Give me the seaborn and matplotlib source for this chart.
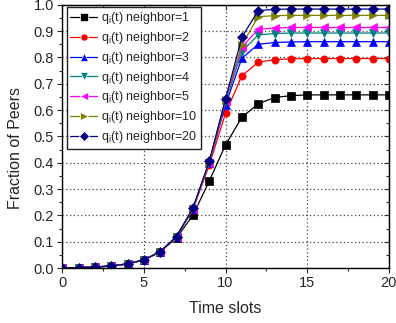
import numpy as np
import pandas as pd
import matplotlib
matplotlib.use("Agg")
import matplotlib.pyplot as plt
import seaborn as sns
from matplotlib.ticker import MultipleLocator, FormatStrFormatter

t = list(range(0, 21))
n1 = [0.0, 0.002, 0.004, 0.008, 0.016, 0.031, 0.062, 0.115, 0.20, 0.33, 0.468, 0.573, 0.624, 0.648, 0.655, 0.658, 0.658, 0.658, 0.658, 0.658, 0.658]
n2 = [0.0, 0.002, 0.004, 0.008, 0.016, 0.031, 0.062, 0.12, 0.222, 0.39, 0.588, 0.73, 0.782, 0.792, 0.795, 0.796, 0.796, 0.796, 0.796, 0.796, 0.796]
n3 = [0.0, 0.002, 0.004, 0.008, 0.016, 0.031, 0.062, 0.12, 0.225, 0.40, 0.62, 0.797, 0.85, 0.857, 0.859, 0.86, 0.86, 0.86, 0.86, 0.86, 0.86]
n4 = [0.0, 0.002, 0.004, 0.008, 0.016, 0.031, 0.062, 0.12, 0.225, 0.40, 0.632, 0.822, 0.886, 0.891, 0.893, 0.893, 0.893, 0.893, 0.893, 0.893, 0.893]
n5 = [0.0, 0.002, 0.004, 0.008, 0.016, 0.031, 0.062, 0.12, 0.225, 0.40, 0.636, 0.84, 0.907, 0.912, 0.914, 0.914, 0.914, 0.914, 0.914, 0.914, 0.914]
n10 = [0.0, 0.002, 0.004, 0.008, 0.016, 0.031, 0.062, 0.12, 0.225, 0.40, 0.64, 0.848, 0.955, 0.959, 0.96, 0.96, 0.96, 0.96, 0.96, 0.96, 0.96]
n20 = [0.0, 0.002, 0.004, 0.008, 0.016, 0.031, 0.062, 0.12, 0.228, 0.405, 0.643, 0.877, 0.978, 0.983, 0.984, 0.984, 0.984, 0.984, 0.984, 0.984, 0.984]

labels = [r"q$_\mathregular{i}$(t) neighbor=1", r"q$_\mathregular{i}$(t) neighbor=2",
          r"q$_\mathregular{i}$(t) neighbor=3", r"q$_\mathregular{i}$(t) neighbor=4",
          r"q$_\mathregular{i}$(t) neighbor=5", r"q$_\mathregular{i}$(t) neighbor=10",
          r"q$_\mathregular{i}$(t) neighbor=20"]
series = [n1, n2, n3, n4, n5, n10, n20]
colors = ["#000000", "#ff0000", "#0000ff", "#008080", "#ff00ff", "#808000", "#000080"]
markers = ["s", "o", "^", "v", "<", ">", "D"]

rows = []
for lab, vals in zip(labels, series):
    for ti, v in zip(t, vals):
        rows.append({"t": ti, "v": v, "series": lab})
df = pd.DataFrame(rows)

sns.set_style("ticks")
plt.rcParams["font.family"] = ["Liberation Sans", "DejaVu Sans"]
plt.rcParams["mathtext.fontset"] = "custom"
plt.rcParams["mathtext.rm"] = "Liberation Sans"
plt.rcParams["mathtext.it"] = "Liberation Sans"

fig = plt.figure(figsize=(3.96, 3.23), dpi=100)
ax = fig.add_axes([0.157, 0.170, 0.825, 0.815])

sns.lineplot(data=df, x="t", y="v", hue="series", style="series",
             palette=dict(zip(labels, colors)), markers=dict(zip(labels, markers)),
             dashes=False, hue_order=labels, style_order=labels,
             linewidth=0.9, markersize=5.2, markeredgewidth=0.5, ax=ax)

for line, c in zip(ax.get_lines(), colors):
    line.set_markeredgecolor(c)

ax.set_xlim(0, 20)
ax.set_ylim(0, 1.0)
ax.xaxis.set_major_locator(MultipleLocator(5))
ax.xaxis.set_minor_locator(MultipleLocator(2.5))
ax.yaxis.set_major_locator(MultipleLocator(0.1))
ax.yaxis.set_minor_locator(MultipleLocator(0.05))
ax.yaxis.set_major_formatter(FormatStrFormatter("%.1f"))
ax.tick_params(which="both", direction="out", top=False, right=False,
               labelsize=10.5, width=0.8, pad=2)
ax.tick_params(which="major", length=3.8)
ax.tick_params(which="minor", length=2.2)

secx = ax.secondary_xaxis("top")
secx.xaxis.set_major_locator(MultipleLocator(5))
secx.xaxis.set_minor_locator(MultipleLocator(2.5))
secx.tick_params(which="both", direction="in", labeltop=False, width=0.8)
secx.tick_params(which="major", length=3.8)
secx.tick_params(which="minor", length=2.2)
secy = ax.secondary_yaxis("right")
secy.yaxis.set_major_locator(MultipleLocator(0.1))
secy.yaxis.set_minor_locator(MultipleLocator(0.05))
secy.tick_params(which="both", direction="in", labelright=False, width=0.8)
secy.tick_params(which="major", length=3.8)
secy.tick_params(which="minor", length=2.2)

ax.grid(True, which="major", linestyle=(0, (1, 2)), color="#444444", linewidth=0.9)
for s in ax.spines.values():
    s.set_linewidth(1.0)
    s.set_color("black")

ax.set_xlabel("Time slots", fontsize=11.5)
ax.set_ylabel("Fraction of Peers", fontsize=11.5)
ax.xaxis.set_label_coords(0.5, -0.125)
ax.yaxis.set_label_coords(-0.12, 0.455)

handles, labs = ax.get_legend_handles_labels()
leg = ax.legend(handles, labs, loc="upper left", bbox_to_anchor=(0.014, 0.993),
                fontsize=9, frameon=True, fancybox=False, edgecolor="#222222",
                handlelength=2.1, handletextpad=0.35, borderaxespad=0.0,
                labelspacing=0.3, borderpad=0.3)
leg.get_frame().set_linewidth(1.0)
leg.get_frame().set_alpha(1)

fig.savefig("out.png", dpi=100)
